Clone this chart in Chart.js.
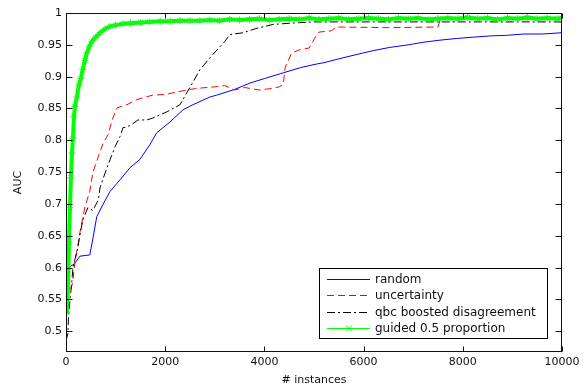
<!DOCTYPE html>
<html>
<head>
<meta charset="utf-8">
<script src="https://cdn.jsdelivr.net/npm/chart.js@4"></script>
<style>
  html, body { margin: 0; padding: 0; background: #fff; }
  canvas { display: block; }
</style>
</head>
<body>
<canvas id="chart" width="588" height="388"></canvas>
<script>
// values (# instances vs AUC)
const randomX = [0, 20, 180, 280, 480, 540, 620, 750, 890, 1090, 1290, 1490, 1690, 1830, 2100, 2360, 2560, 2900, 3040, 3400, 3710, 4000, 4380, 4720, 5000, 5200, 5500, 5870, 6200, 6530, 6900, 7200, 7500, 7880, 8200, 8550, 8900, 9220, 9600, 10000];
const randomY = [0.59, 0.598, 0.607, 0.618, 0.62, 0.645, 0.68, 0.70, 0.72, 0.738, 0.757, 0.77, 0.793, 0.812, 0.829, 0.848, 0.856, 0.868, 0.871, 0.88, 0.89, 0.897, 0.906, 0.914, 0.919, 0.922, 0.928, 0.935, 0.941, 0.946, 0.95, 0.954, 0.957, 0.96, 0.962, 0.964, 0.965, 0.967, 0.967, 0.969];

const uncertX = [0, 60, 100, 140, 180, 240, 280, 380, 480, 540, 650, 750, 850, 930, 1030, 1230, 1430, 1750, 2000, 2240, 2500, 2700, 3000, 3200, 3400, 3600, 3900, 4100, 4300, 4380, 4420, 4550, 4700, 4900, 5050, 5100, 5350, 5450, 6500, 7500, 7550, 10000];
const uncertY = [0.55, 0.56, 0.565, 0.58, 0.61, 0.635, 0.655, 0.695, 0.72, 0.749, 0.774, 0.796, 0.809, 0.832, 0.851, 0.856, 0.864, 0.871, 0.872, 0.876, 0.88, 0.882, 0.884, 0.886, 0.879, 0.883, 0.879, 0.881, 0.884, 0.888, 0.915, 0.937, 0.942, 0.945, 0.965, 0.97, 0.972, 0.978, 0.977, 0.978, 0.991, 0.991];

const qbcX = [0, 40, 50, 80, 120, 140, 240, 280, 340, 440, 540, 650, 690, 790, 890, 990, 1090, 1150, 1230, 1330, 1450, 1630, 1750, 2040, 2300, 2400, 2550, 2700, 2950, 3200, 3300, 3570, 3850, 4170, 4520, 5000, 6000, 7000, 8000, 9000, 10000];
const qbcY = [0.485, 0.497, 0.522, 0.549, 0.58, 0.60, 0.632, 0.651, 0.675, 0.694, 0.69, 0.706, 0.727, 0.749, 0.77, 0.79, 0.806, 0.82, 0.821, 0.825, 0.832, 0.832, 0.835, 0.845, 0.856, 0.87, 0.89, 0.911, 0.934, 0.955, 0.966, 0.969, 0.976, 0.982, 0.984, 0.986, 0.986, 0.986, 0.986, 0.986, 0.986];

const guidedX = [0, 20, 40, 60, 80, 100, 120, 140, 160, 180, 220, 260, 300, 340, 380, 420, 470, 520, 600, 690, 790, 890, 1000, 1150, 1300, 1500, 1690, 1900, 2100, 2300, 2500, 2700,
  2900, 3100, 3300, 3500, 3700, 3900, 4100, 4300, 4500, 4700, 4900, 5100, 5300, 5500, 5700, 5900, 6100, 6300, 6500, 6700, 6900, 7100, 7300, 7500, 7700, 7900, 8100, 8300, 8500, 8700, 8900, 9100, 9300, 9500, 9700, 9900, 10000];
const guidedY = [0.53, 0.55, 0.565, 0.64, 0.695, 0.741, 0.78, 0.803, 0.837, 0.853, 0.868, 0.887, 0.897, 0.912, 0.925, 0.937, 0.947, 0.955, 0.962, 0.969, 0.975, 0.979, 0.981, 0.983, 0.984, 0.985, 0.986, 0.987, 0.987, 0.988, 0.988, 0.988,
  0.989, 0.988, 0.990, 0.989, 0.990, 0.991, 0.989, 0.990, 0.991, 0.990, 0.992, 0.990, 0.991, 0.992, 0.990, 0.991, 0.992, 0.991, 0.990, 0.992, 0.991, 0.992, 0.990, 0.991, 0.992, 0.991, 0.993, 0.991, 0.992, 0.990, 0.992, 0.991, 0.993, 0.991, 0.992, 0.991, 0.992];

const seriesNames = ["random", "uncertainty", "qbc boosted disagreement", "guided 0.5 proportion"];
const xTicks = [0, 2000, 4000, 6000, 8000, 10000];
const yTicks = [0.5, 0.55, 0.6, 0.65, 0.7, 0.75, 0.8, 0.85, 0.9, 0.95, 1];

const toPoints = (xs, ys) => xs.map((x, i) => ({ x: x, y: ys[i] }));

// matlab style box with inward ticks, plus the legend
const boxPlugin = {
  id: "box",
  afterDraw(chart) {
    const ctx = chart.ctx;
    const a = chart.chartArea;
    const L = Math.round(a.left) + 0.5, R = Math.round(a.right) - 0.5;
    const T = Math.round(a.top) + 0.5, B = Math.round(a.bottom) - 0.5;
    ctx.save();
    ctx.strokeStyle = "#111";
    ctx.lineWidth = 1;
    ctx.setLineDash([]);
    ctx.strokeRect(L, T, R - L, B - T);
    ctx.beginPath();
    chart.scales.x.ticks.forEach(t => {
      const px = Math.round(chart.scales.x.getPixelForValue(t.value)) + 0.5;
      ctx.moveTo(px, B); ctx.lineTo(px, B - 5);
      ctx.moveTo(px, T); ctx.lineTo(px, T + 5);
    });
    chart.scales.y.ticks.forEach(t => {
      const py = Math.round(chart.scales.y.getPixelForValue(t.value)) + 0.5;
      ctx.moveTo(L, py); ctx.lineTo(L + 6, py);
      ctx.moveTo(R, py); ctx.lineTo(R - 6, py);
    });
    ctx.stroke();

    // legend
    const lx = 319.5, ly = 268.5, lw = 228, lh = 70;
    ctx.fillStyle = "#fff";
    ctx.fillRect(lx, ly, lw, lh);
    ctx.strokeStyle = "#000";
    ctx.strokeRect(lx, ly, lw, lh);
    ctx.font = "12px 'DejaVu Sans'";
    ctx.textBaseline = "middle";
    ctx.textAlign = "left";
    chart.data.datasets.forEach((ds, i) => {
      const yy = Math.round(ly + 10.5 + i * 16.3) + 0.5;
      ctx.strokeStyle = ds.borderColor;
      ctx.lineWidth = 1;
      ctx.setLineDash(ds.borderDash || []);
      ctx.beginPath();
      ctx.moveTo(327, yy);
      ctx.lineTo(370, yy);
      ctx.stroke();
      ctx.setLineDash([]);
      if (ds.pointRadius > 0) {
        ctx.beginPath();
        ctx.moveTo(346, yy - 3); ctx.lineTo(352, yy + 3);
        ctx.moveTo(352, yy - 3); ctx.lineTo(346, yy + 3);
        ctx.stroke();
      }
      ctx.fillStyle = "#111";
      ctx.fillText(ds.label, 375, yy);
    });
    ctx.restore();
  }
};

new Chart(document.getElementById("chart"), {
  type: "line",
  data: {
    datasets: [
      {
        label: seriesNames[0],
        data: toPoints(randomX, randomY),
        borderColor: "#0000ff",
        borderWidth: 1,
        pointRadius: 0,
        order: 3
      },
      {
        label: seriesNames[1],
        data: toPoints(uncertX, uncertY),
        borderColor: "#ff0000",
        borderWidth: 1,
        borderDash: [7, 4],
        pointRadius: 0,
        order: 2
      },
      {
        label: seriesNames[2],
        data: toPoints(qbcX, qbcY),
        borderColor: "#000000",
        borderWidth: 1,
        borderDash: [8, 3, 2, 3],
        pointRadius: 0,
        order: 1
      },
      {
        label: seriesNames[3],
        data: toPoints(guidedX, guidedY),
        borderColor: "#00ff00",
        backgroundColor: "#00ff00",
        borderWidth: 4,
        pointStyle: "star",
        pointRadius: 3.5,
        pointBorderWidth: 1,
        pointBorderColor: "#22ee22",
        order: 0
      }
    ]
  },
  options: {
    responsive: false,
    animation: false,
    devicePixelRatio: 1,
    layout: { padding: { top: 13, right: 26, left: 0, bottom: 0 } },
    plugins: { legend: { display: false }, tooltip: { enabled: false } },
    elements: { line: { tension: 0 } },
    scales: {
      x: {
        type: "linear",
        min: 0,
        max: 10000,
        afterFit: s => { s.height = 36; },
        afterBuildTicks: s => { s.ticks = xTicks.map(v => ({ value: v })); },
        grid: { display: false, drawTicks: false },
        border: { display: false },
        ticks: {
          autoSkip: false,
          maxRotation: 0,
          padding: 4,
          color: "#111",
          font: { family: "'DejaVu Sans'", size: 11 },
          callback: v => String(v)
        },
        title: {
          display: true,
          text: "# instances",
          color: "#111",
          font: { family: "'DejaVu Sans'", size: 11 },
          padding: { top: 0, bottom: 1 }
        }
      },
      y: {
        type: "linear",
        min: 0.4675,
        max: 1,
        afterFit: s => { s.width = 66; },
        afterBuildTicks: s => { s.ticks = yTicks.map(v => ({ value: v })); },
        grid: { display: false, drawTicks: false },
        border: { display: false },
        ticks: {
          autoSkip: false,
          padding: 4,
          color: "#111",
          font: { family: "'DejaVu Sans'", size: 11 },
          callback: v => String(Number(v.toFixed(2)))
        },
        title: {
          display: true,
          text: "AUC",
          color: "#111",
          font: { family: "'DejaVu Sans'", size: 11 },
          padding: { top: 12, bottom: 0 }
        }
      }
    }
  },
  plugins: [boxPlugin]
});
</script>
</body>
</html>
